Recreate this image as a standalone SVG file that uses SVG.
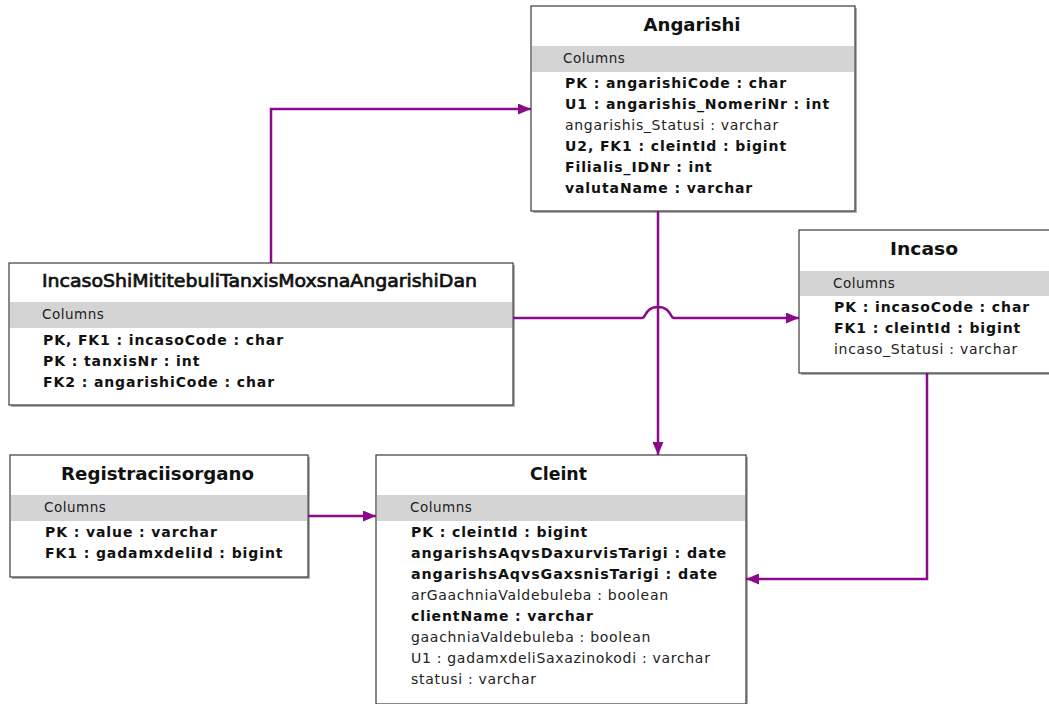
<svg xmlns="http://www.w3.org/2000/svg" width="1049" height="704" viewBox="0 0 1049 704">
  <style>
    .box { fill: #ffffff; stroke: #3a3a3a; stroke-width: 1.2; }
    .shadow { fill: #b0b0b0; }
    .band { fill: #d4d4d4; }
    .title { font-family: "DejaVu Sans", Verdana, sans-serif; font-size: 17.5px; font-weight: bold; fill: #111; text-anchor: middle; }
    .title-long { font-weight: normal; stroke: #111; stroke-width: 0.7; }
    .cols { font-family: "DejaVu Sans", Verdana, sans-serif; font-size: 13.5px; letter-spacing: 0.5px; fill: #222; }
    .key { font-family: "DejaVu Sans", Verdana, sans-serif; font-size: 14px; font-weight: bold; letter-spacing: 0.9px; fill: #111; }
    .attr { font-family: "DejaVu Sans", Verdana, sans-serif; font-size: 14px; letter-spacing: 0.7px; fill: #222; }
    .rel { fill: none; stroke: #8b0a8b; stroke-width: 2.5; }
  </style>
  <defs>
    <marker id="arrow" viewBox="0 0 13 11" refX="13" refY="5.5" markerWidth="13" markerHeight="11" markerUnits="userSpaceOnUse" orient="auto">
      <path d="M0,0 L13,5.5 L0,11 z" fill="#8b0a8b"/>
    </marker>
  </defs>
  <rect width="1049" height="704" fill="#ffffff"/>

  <!-- Angarishi -->
  <g id="angarishi">
    <rect class="shadow" x="533" y="8" width="324" height="205"/>
    <rect class="box" x="531" y="6" width="324" height="205"/>
    <rect class="band" x="532" y="46" width="322" height="26"/>
    <text class="title" x="692" y="31" textLength="97" lengthAdjust="spacingAndGlyphs">Angarishi</text>
    <text class="cols" x="563" y="63">Columns</text>
    <text class="key" x="565" y="88">PK : angarishiCode : char</text>
    <text class="key" x="565" y="109">U1 : angarishis_NomeriNr : int</text>
    <text class="attr" x="565" y="130">angarishis_Statusi : varchar</text>
    <text class="key" x="565" y="151">U2, FK1 : cleintId : bigint</text>
    <text class="key" x="565" y="172">Filialis_IDNr : int</text>
    <text class="key" x="565" y="193">valutaName : varchar</text>
  </g>

  <!-- Incaso -->
  <g id="incaso">
    <rect class="shadow" x="801" y="232" width="260" height="143"/>
    <rect class="box" x="799" y="230" width="260" height="143"/>
    <rect class="band" x="800" y="271" width="258" height="25"/>
    <text class="title" x="924" y="255" textLength="68" lengthAdjust="spacingAndGlyphs">Incaso</text>
    <text class="cols" x="833" y="288">Columns</text>
    <text class="key" x="834" y="312">PK : incasoCode : char</text>
    <text class="key" x="834" y="333">FK1 : cleintId : bigint</text>
    <text class="attr" x="834" y="354">incaso_Statusi : varchar</text>
  </g>

  <!-- IncasoShiMititebuliTanxisMoxsnaAngarishiDan -->
  <g id="incaso-tanxa">
    <rect class="shadow" x="11" y="265" width="504" height="142"/>
    <rect class="box" x="9" y="263" width="504" height="142"/>
    <rect class="band" x="10" y="302" width="502" height="26"/>
    <text class="title title-long" x="259.5" y="287" textLength="435" lengthAdjust="spacingAndGlyphs">IncasoShiMititebuliTanxisMoxsnaAngarishiDan</text>
    <text class="cols" x="42" y="319">Columns</text>
    <text class="key" x="43" y="345">PK, FK1 : incasoCode : char</text>
    <text class="key" x="43" y="366">PK : tanxisNr : int</text>
    <text class="key" x="43" y="387">FK2 : angarishiCode : char</text>
  </g>

  <!-- Registraciisorgano -->
  <g id="registraciisorgano">
    <rect class="shadow" x="12" y="457" width="298" height="122"/>
    <rect class="box" x="10" y="455" width="298" height="122"/>
    <rect class="band" x="11" y="495" width="296" height="26"/>
    <text class="title" x="157.5" y="480" textLength="193" lengthAdjust="spacingAndGlyphs">Registraciisorgano</text>
    <text class="cols" x="44" y="512">Columns</text>
    <text class="key" x="45" y="537">PK : value : varchar</text>
    <text class="key" x="45" y="558">FK1 : gadamxdeliId : bigint</text>
  </g>

  <!-- Cleint -->
  <g id="cleint">
    <rect class="shadow" x="378" y="457" width="370" height="249"/>
    <rect class="box" x="376" y="455" width="370" height="249"/>
    <rect class="band" x="377" y="495" width="368" height="26"/>
    <text class="title" x="558.5" y="480" textLength="57" lengthAdjust="spacingAndGlyphs">Cleint</text>
    <text class="cols" x="410" y="512">Columns</text>
    <text class="key" x="411" y="537">PK : cleintId : bigint</text>
    <text class="key" x="411" y="558" textLength="316" lengthAdjust="spacingAndGlyphs">angarishsAqvsDaxurvisTarigi : date</text>
    <text class="key" x="411" y="579" textLength="307" lengthAdjust="spacingAndGlyphs">angarishsAqvsGaxsnisTarigi : date</text>
    <text class="attr" x="411" y="600">arGaachniaValdebuleba : boolean</text>
    <text class="key" x="411" y="621">clientName : varchar</text>
    <text class="attr" x="411" y="642">gaachniaValdebuleba : boolean</text>
    <text class="attr" x="411" y="663">U1 : gadamxdeliSaxazinokodi : varchar</text>
    <text class="attr" x="411" y="684">statusi : varchar</text>
  </g>

  <!-- relationships -->
  <g id="connectors">
    <path class="rel" d="M271,263 V109 H531" marker-end="url(#arrow)"/>
    <path class="rel" d="M658,211 V455" marker-end="url(#arrow)"/>
    <path class="rel" d="M513,318 H642 C646,318 645,307 658,307 C671,307 670,318 674,318 H799" marker-end="url(#arrow)"/>
    <path class="rel" d="M927,373 V579 H746" marker-end="url(#arrow)"/>
    <path class="rel" d="M308,516 H376" marker-end="url(#arrow)"/>
  </g>
</svg>
